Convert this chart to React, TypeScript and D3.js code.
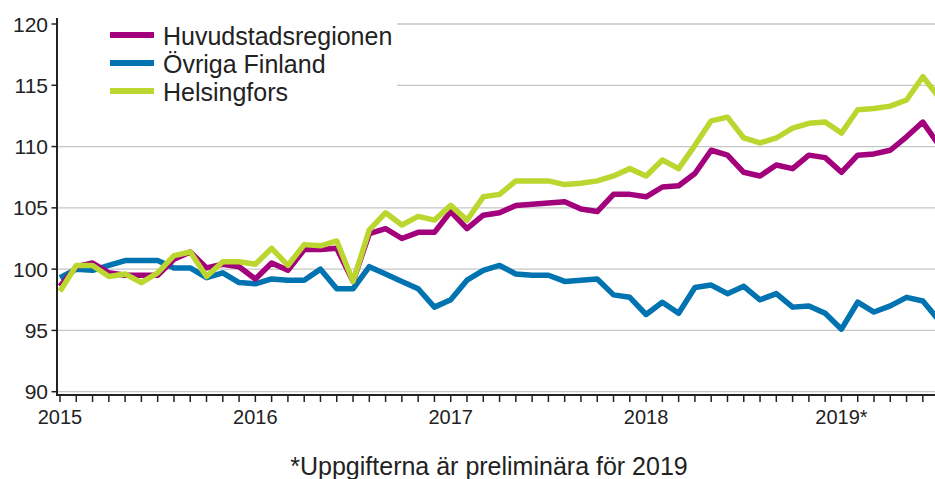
import React from "react";
import * as d3 from "d3";

const months: string[] = d3.range(55).map((i) => `${2015 + Math.floor(i / 12)}-${String((i % 12) + 1).padStart(2, "0")}`);

const huvudstadsregionen: number[] = [
  98.6, 100.2, 100.5, 99.7, 99.5, 99.5, 99.5, 100.8, 101.4, 100.1, 100.4, 100.2,
  99.2, 100.5, 99.9, 101.6, 101.6, 101.7, 99.0, 102.9, 103.3, 102.5, 103.0, 103.0,
  104.7, 103.3, 104.4, 104.6, 105.2, 105.3, 105.4, 105.5, 104.9, 104.7, 106.1, 106.1,
  105.9, 106.7, 106.8, 107.8, 109.7, 109.3, 107.9, 107.6, 108.5, 108.2, 109.3, 109.1,
  107.9, 109.3, 109.4, 109.7, 110.8, 112.0, 110.1,
];

const ovrigaFinland: number[] = [
  99.3, 100.0, 99.9, 100.3, 100.7, 100.7, 100.7, 100.1, 100.1, 99.3, 99.7, 98.9,
  98.8, 99.2, 99.1, 99.1, 100.0, 98.4, 98.4, 100.2, 99.6, 99.0, 98.4, 96.9,
  97.5, 99.1, 99.9, 100.3, 99.6, 99.5, 99.5, 99.0, 99.1, 99.2, 97.9, 97.7,
  96.3, 97.3, 96.4, 98.5, 98.7, 98.0, 98.6, 97.5, 98.0, 96.9, 97.0, 96.4,
  95.1, 97.3, 96.5, 97.0, 97.7, 97.4, 95.8,
];

const helsingfors: number[] = [
  98.2, 100.3, 100.3, 99.4, 99.6, 98.9, 99.7, 101.1, 101.4, 99.4, 100.6, 100.6,
  100.4, 101.7, 100.3, 102.0, 101.9, 102.3, 99.0, 103.2, 104.6, 103.6, 104.3, 104.0,
  105.2, 104.0, 105.9, 106.1, 107.2, 107.2, 107.2, 106.9, 107.0, 107.2, 107.6, 108.2,
  107.6, 108.9, 108.2, 110.1, 112.1, 112.4, 110.7, 110.3, 110.7, 111.5, 111.9, 112.0,
  111.1, 113.0, 113.1, 113.3, 113.8, 115.7, 114.0,
];

const yTicks: number[] = [90, 95, 100, 105, 110, 115, 120];
const yearLabels: string[] = ["2015", "2016", "2017", "2018", "2019*"];
const footnote = "*Uppgifterna är preliminära för 2019";

const seriesDefs = [
  { name: "Huvudstadsregionen", values: huvudstadsregionen, color: "#a3007c" },
  { name: "Övriga Finland", values: ovrigaFinland, color: "#0073b0" },
  { name: "Helsingfors", values: helsingfors, color: "#bcd630" },
];
const drawOrder = [1, 0, 2];

const W = 935;
const H = 479;
const left = 57;
const right = 935;
const axisY = 395;

export default function App() {
  const x = d3.scaleLinear().domain([0, months.length - 1]).range([60, 60 + 54 * 16.28]);
  const y = d3.scaleLinear().domain([90, 120]).range([391.7, 24]);
  const line = d3
    .line<number>()
    .x((_, i) => x(i))
    .y((d) => y(d));
  const font = "'Liberation Sans', Arial, sans-serif";

  return (
    <svg width={W} height={H} style={{ position: "absolute", left: 0, top: 0, background: "#fff" }}>
      <defs>
        <clipPath id="plot">
          <rect x={left} y={0} width={right - left} height={axisY} />
        </clipPath>
      </defs>
      {yTicks.map((t) => (
        <line key={"g" + t} x1={left} x2={right} y1={y(t)} y2={y(t)} stroke="#c6c6c6" strokeWidth={1.3} />
      ))}
      <g clipPath="url(#plot)">
        {drawOrder.map((k) => (
          <path
            key={seriesDefs[k].name}
            d={line(seriesDefs[k].values) || ""}
            fill="none"
            stroke={seriesDefs[k].color}
            strokeWidth={5.5}
            strokeLinejoin="round"
          />
        ))}
      </g>
      {/* legend */}
      <rect x={left + 1.5} y={8} width={397 - left - 1.5} height={100} fill="#fff" />
      {seriesDefs.map((s, i) => (
        <g key={"l" + s.name}>
          <line x1={110} x2={154} y1={35 + i * 28} y2={35 + i * 28} stroke={s.color} strokeWidth={6} />
          <text x={163} y={45 + i * 28} fontFamily={font} fontSize={25} fill="#222">
            {s.name}
          </text>
        </g>
      ))}
      {/* y axis */}
      <line x1={left} x2={left} y1={18} y2={axisY + 1} stroke="#222" strokeWidth={2} />
      {yTicks.map((t) => (
        <g key={"y" + t}>
          <line x1={51.5} x2={left} y1={y(t)} y2={y(t)} stroke="#222" strokeWidth={1.5} />
          <text x={48} y={y(t) + 7.5} textAnchor="end" fontFamily={font} fontSize={21} fill="#222">
            {t}
          </text>
        </g>
      ))}
      {/* x axis */}
      <line x1={left} x2={right} y1={axisY} y2={axisY} stroke="#222" strokeWidth={2} />
      {months.map((m, i) =>
        x(i) <= right ? (
          <line key={"t" + m} x1={x(i)} x2={x(i)} y1={axisY} y2={axisY + 7} stroke="#222" strokeWidth={1.5} />
        ) : null
      )}
      {yearLabels.map((lab, k) => (
        <text key={lab} x={x(k * 12)} y={424} textAnchor="middle" fontFamily={font} fontSize={20} fill="#222">
          {lab}
        </text>
      ))}
      <text x={489} y={475} textAnchor="middle" fontFamily={font} fontSize={25} fill="#222">
        {footnote}
      </text>
    </svg>
  );
}
